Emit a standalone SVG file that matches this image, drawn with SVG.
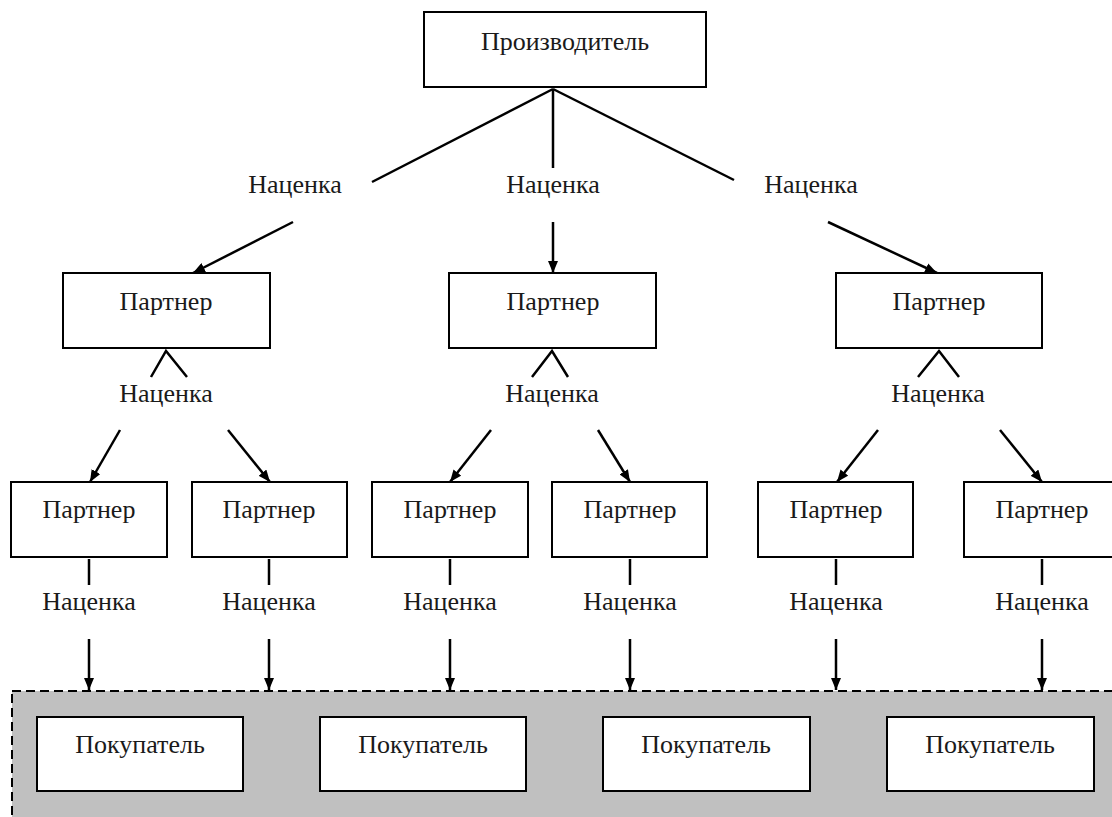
<svg xmlns="http://www.w3.org/2000/svg" width="1112" height="817" viewBox="0 0 1112 817">
<style>
.box{fill:#fff;stroke:#000;stroke-width:2}
.t{font-family:"Liberation Serif","Times New Roman",serif;font-size:26px;fill:#1a1a1a;text-anchor:middle}
.ln{stroke:#000;stroke-width:2.5;fill:none}
.ar{marker-end:url(#arr)}
</style>
<defs>
<marker id="arr" markerUnits="userSpaceOnUse" markerWidth="12" markerHeight="10" refX="12" refY="5" orient="auto">
<path d="M0,0 L12,5 L0,10 z" fill="#000"/>
</marker>
</defs>
<rect width="1112" height="817" fill="#fff"/>
<g id="buyers-area">
<rect x="12" y="691" width="1112" height="140" fill="#c0c0c0" stroke="#000" stroke-width="2" stroke-dasharray="9,5"/>
</g>
<g id="connectors">
<line class="ln" x1="553" y1="89" x2="372" y2="182"/>
<line class="ln ar" x1="293" y1="222" x2="193" y2="273"/>
<line class="ln" x1="553" y1="89" x2="553" y2="168"/>
<line class="ln ar" x1="553" y1="222" x2="553" y2="273"/>
<line class="ln" x1="553" y1="89" x2="734" y2="180"/>
<line class="ln ar" x1="828" y1="222" x2="937" y2="273"/>
<polyline class="ln" points="151,377 166,351 187,377"/>
<line class="ln ar" x1="120" y1="430" x2="90" y2="482"/>
<line class="ln ar" x1="228" y1="430" x2="270" y2="482"/>
<polyline class="ln" points="532,377 552,351 568,377"/>
<line class="ln ar" x1="491" y1="430" x2="450" y2="482"/>
<line class="ln ar" x1="598" y1="430" x2="630" y2="482"/>
<polyline class="ln" points="918,377 939,351 959,377"/>
<line class="ln ar" x1="878" y1="430" x2="837" y2="482"/>
<line class="ln ar" x1="1000" y1="430" x2="1042" y2="482"/>
<line class="ln" x1="89" y1="559" x2="89" y2="585"/>
<line class="ln ar" x1="89" y1="639" x2="89" y2="690"/>
<line class="ln" x1="269" y1="559" x2="269" y2="585"/>
<line class="ln ar" x1="269" y1="639" x2="269" y2="690"/>
<line class="ln" x1="450" y1="559" x2="450" y2="585"/>
<line class="ln ar" x1="450" y1="639" x2="450" y2="690"/>
<line class="ln" x1="630" y1="559" x2="630" y2="585"/>
<line class="ln ar" x1="630" y1="639" x2="630" y2="690"/>
<line class="ln" x1="836" y1="559" x2="836" y2="585"/>
<line class="ln ar" x1="836" y1="639" x2="836" y2="690"/>
<line class="ln" x1="1042" y1="559" x2="1042" y2="585"/>
<line class="ln ar" x1="1042" y1="639" x2="1042" y2="690"/>
</g>
<g id="labels">
<text class="t" x="295" y="193">Наценка</text>
<text class="t" x="553" y="193">Наценка</text>
<text class="t" x="811" y="193">Наценка</text>
<text class="t" x="166" y="402">Наценка</text>
<text class="t" x="552" y="402">Наценка</text>
<text class="t" x="938" y="402">Наценка</text>
<text class="t" x="89" y="610">Наценка</text>
<text class="t" x="269" y="610">Наценка</text>
<text class="t" x="450" y="610">Наценка</text>
<text class="t" x="630" y="610">Наценка</text>
<text class="t" x="836" y="610">Наценка</text>
<text class="t" x="1042" y="610">Наценка</text>
</g>
<g id="producer"><rect class="box" x="424" y="12" width="282" height="75"/><text class="t" x="565" y="50">Производитель</text></g>
<g id="partner-1"><rect class="box" x="63" y="273" width="207" height="75"/><text class="t" x="166" y="310">Партнер</text></g>
<g id="partner-2"><rect class="box" x="449" y="273" width="207" height="75"/><text class="t" x="553" y="310">Партнер</text></g>
<g id="partner-3"><rect class="box" x="836" y="273" width="206" height="75"/><text class="t" x="939" y="310">Партнер</text></g>
<g id="partner-1-1"><rect class="box" x="11" y="482" width="156" height="75"/><text class="t" x="89" y="518">Партнер</text></g>
<g id="partner-1-2"><rect class="box" x="192" y="482" width="155" height="75"/><text class="t" x="269" y="518">Партнер</text></g>
<g id="partner-2-1"><rect class="box" x="372" y="482" width="156" height="75"/><text class="t" x="450" y="518">Партнер</text></g>
<g id="partner-2-2"><rect class="box" x="552" y="482" width="155" height="75"/><text class="t" x="630" y="518">Партнер</text></g>
<g id="partner-3-1"><rect class="box" x="758" y="482" width="155" height="75"/><text class="t" x="836" y="518">Партнер</text></g>
<g id="partner-3-2"><rect class="box" x="964" y="482" width="156" height="75"/><text class="t" x="1042" y="518">Партнер</text></g>
<g id="buyer-1"><rect class="box" x="37" y="717" width="206" height="74"/><text class="t" x="140" y="753">Покупатель</text></g>
<g id="buyer-2"><rect class="box" x="320" y="717" width="206" height="74"/><text class="t" x="423" y="753">Покупатель</text></g>
<g id="buyer-3"><rect class="box" x="603" y="717" width="207" height="74"/><text class="t" x="706" y="753">Покупатель</text></g>
<g id="buyer-4"><rect class="box" x="887" y="717" width="207" height="74"/><text class="t" x="990" y="753">Покупатель</text></g>
</svg>
